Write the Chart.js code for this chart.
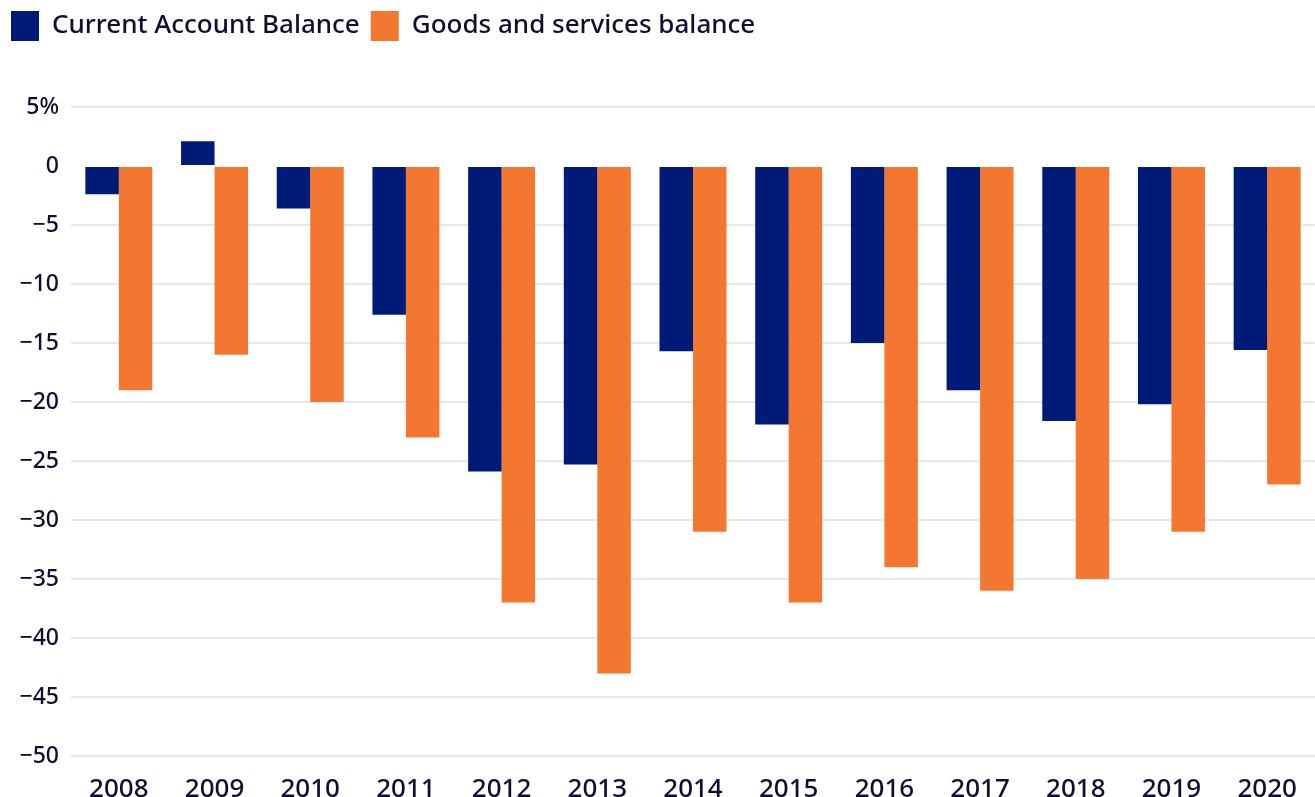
<!DOCTYPE html>
<html>
<head>
<meta charset="utf-8">
<script src="https://cdn.jsdelivr.net/npm/chart.js@4"></script>
<style>
  html, body { margin: 0; padding: 0; background: #fff; }
  #wrap { width: 1315px; height: 797px; }
</style>
</head>
<body>
<div id="wrap"><canvas id="myChart"></canvas></div>
<script>
// data (% of GDP)
var years = ['2008', '2009', '2010', '2011', '2012', '2013', '2014', '2015', '2016', '2017', '2018', '2019', '2020'];
var currentAccount = [-2.4, 2.1, -3.6, -12.6, -25.9, -25.3, -15.7, -21.9, -15.0, -19.0, -21.6, -20.2, -15.6];
var goodsServices = [-19.0, -16.0, -20.0, -23.0, -37.0, -43.0, -31.0, -37.0, -34.0, -36.0, -35.0, -31.0, -27.0];
var yTicks = [5, 0, -5, -10, -15, -20, -25, -30, -35, -40, -45, -50];

var navy = '#001b77';
var orange = '#f47731';
var textColor = '#0e0e35';

Chart.defaults.font.family = "'Noto Sans', sans-serif";
Chart.defaults.font.weight = '500';
Chart.defaults.color = textColor;

//legend 下方留白
var legendGap = {
    id: 'legendGap',
    beforeInit: function (chart) {
        var fit = chart.legend.fit;
        chart.legend.fit = function () {
            fit.bind(chart.legend)();
            this.height += 56;
        };
    }
};

var ctx = document.getElementById('myChart');
var chart = new Chart(ctx, {
    type: 'bar',
    data: {
        labels: years,
        datasets: [{
            label: 'Current Account Balance',
            data: currentAccount,
            backgroundColor: navy
        }, {
            label: 'Goods and services balance',
            data: goodsServices,
            backgroundColor: orange
        }]
    },
    options: {
        responsive: true,
        maintainAspectRatio: false,
        animation: false,
        categoryPercentage: 0.7,
        barPercentage: 1.0,
        layout: { padding: 0 },
        plugins: {
            legend: {
                align: 'start',
                labels: {
                    boxWidth: 28,
                    boxHeight: 30,
                    padding: 11,
                    font: { size: 26, weight: '500' },
                    color: textColor
                }
            },
            tooltip: { enabled: false }
        },
        scales: {
            x: {
                afterFit: function (scale) { scale.height = 41; },
                grid: { display: false },
                border: { display: false },
                ticks: { font: { size: 26, weight: '500' }, padding: 10, color: textColor }
            },
            y: {
                min: -50,
                max: 5,
                afterBuildTicks: function (scale) {
                    scale.ticks = yTicks.map(function (v) { return { value: v }; });
                },
                afterFit: function (scale) { scale.width = 71; },
                border: { display: false },
                grid: {
                    drawTicks: false,
                    lineWidth: 2,
                    color: function (c) {
                        return c.tick && c.tick.value === 0 ? 'rgba(0,0,0,0)' : '#e8e8e8';
                    }
                },
                ticks: {
                    font: { size: 23, weight: '500' },
                    padding: 12,
                    color: textColor,
                    callback: function (v) {
                        if (v === 5) return '5%';
                        if (v < 0) return '\u2212' + Math.abs(v);
                        return v;
                    }
                }
            }
        }
    },
    plugins: [legendGap]
});
</script>
</body>
</html>
